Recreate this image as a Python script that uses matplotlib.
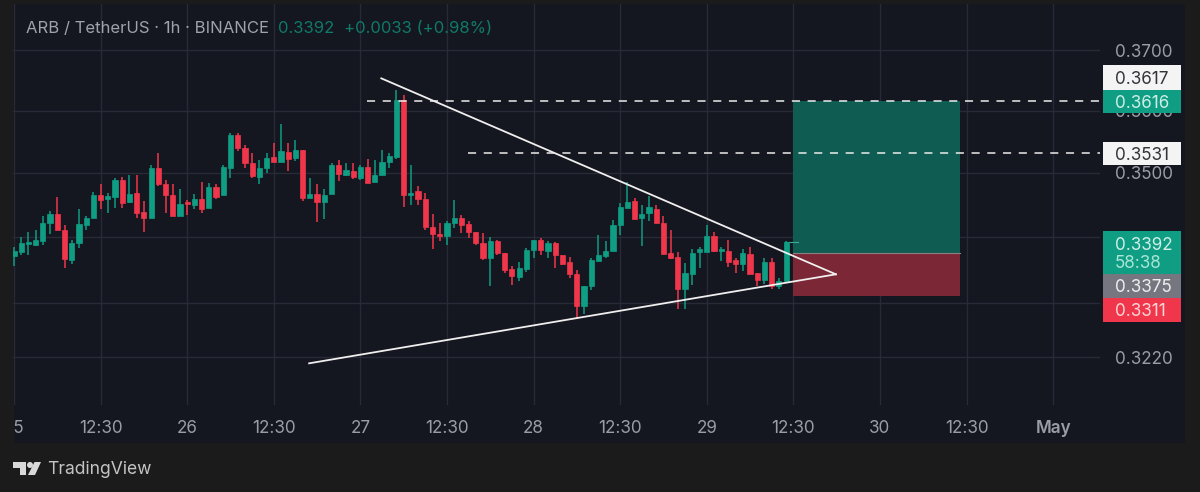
import numpy as np
import matplotlib
matplotlib.use('Agg')
import matplotlib.pyplot as plt
from matplotlib.patches import Rectangle, Polygon, Ellipse
from matplotlib.ticker import NullLocator

# hourly candles
highs = [.3384,.3400,.3407,.3410,.3433,.3440,.3462,.3419,.3395,.3444,.3432,.3470,.3482,.3469,.3492,.3494,.3497,.3497,.3455,.3513,
         .3532,.3488,.3482,.3475,.3457,.3467,.3485,.3484,.3483,.3513,.3564,.3564,.3544,.3531,.3520,.3532,.3548,.3579,.3548,.3552,
         .3536,.3492,.3482,.3474,.3516,.3521,.3516,.3515,.3513,.3522,.3521,.3537,.3532,.3634,.3625,.3513,.3479,.3468,.3436,.3422,
         .3424,.3457,.3434,.3424,.3408,.3406,.3400,.3396,.3376,.3355,.3361,.3383,.3396,.3398,.3393,.3392,.3372,.3369,.3349,.3326,
         .3368,.3403,.3393,.3426,.3453,.3485,.3461,.3450,.3463,.3449,.3432,.3411,.3377,.3360,.3382,.3384,.3419,.3408,.3385,.3396,
         .3368,.3382,.3385,.3345,.3367,.3367,.3338,.3394]
lows = [.3355,.3373,.3373,.3386,.3388,.3404,.3410,.3353,.3358,.3383,.3411,.3430,.3444,.3437,.3445,.3445,.3453,.3430,.3407,.3430,
        .3480,.3437,.3433,.3433,.3434,.3444,.3437,.3445,.3459,.3465,.3492,.3535,.3508,.3492,.3482,.3500,.3517,.3517,.3503,.3519,
        .3455,.3461,.3423,.3427,.3466,.3487,.3495,.3491,.3489,.3484,.3485,.3496,.3508,.3522,.3447,.3449,.3450,.3411,.3382,.3393,
        .3387,.3414,.3406,.3398,.3388,.3365,.3326,.3373,.3345,.3327,.3333,.3346,.3367,.3372,.3367,.3353,.3357,.3337,.3276,.3284,
        .3320,.3363,.3368,.3379,.3403,.3445,.3427,.3386,.3424,.3422,.3374,.3366,.3291,.3291,.3327,.3353,.3377,.3377,.3363,.3354,
        .3345,.3348,.3343,.3326,.3328,.3321,.3321,.3333]
opens = [.3371,.3377,.3389,.3388,.3394,.3422,.3435,.3411,.3365,.3390,.3419,.3430,.3465,.3459,.3462,.3488,.3454,.3468,.3438,.3430,
         .3508,.3483,.3465,.3433,.3454,.3450,.3459,.3445,.3477,.3465,.3508,.3560,.3539,.3515,.3494,.3508,.3525,.3518,.3533,.3523,
         .3536,.3461,.3467,.3454,.3466,.3512,.3496,.3503,.3492,.3509,.3485,.3497,.3517,.3525,.3618,.3465,.3471,.3459,.3415,.3405,
         .3402,.3422,.3430,.3420,.3408,.3390,.3368,.3393,.3375,.3351,.3339,.3351,.3380,.3395,.3379,.3390,.3372,.3361,.3343,.3295,
         .3325,.3363,.3371,.3379,.3418,.3445,.3455,.3430,.3437,.3444,.3422,.3376,.3370,.3321,.3344,.3377,.3377,.3401,.3379,.3379,
         .3365,.3359,.3374,.3345,.3334,.3362,.3326,.3333]
closes = [.3379,.3390,.3392,.3395,.3422,.3435,.3410,.3366,.3391,.3420,.3430,.3465,.3458,.3463,.3488,.3453,.3467,.3437,.3430,.3507,
          .3482,.3465,.3433,.3451,.3451,.3459,.3444,.3477,.3462,.3510,.3560,.3539,.3516,.3495,.3508,.3524,.3517,.3535,.3522,.3537,
          .3461,.3467,.3454,.3465,.3512,.3498,.3504,.3493,.3509,.3484,.3497,.3518,.3527,.3618,.3465,.3468,.3459,.3415,.3405,.3401,
          .3422,.3430,.3419,.3408,.3390,.3367,.3393,.3375,.3349,.3341,.3353,.3380,.3395,.3380,.3390,.3372,.3358,.3344,.3295,.3326,
          .3365,.3372,.3379,.3418,.3447,.3454,.3427,.3436,.3446,.3422,.3374,.3368,.3321,.3345,.3376,.3381,.3401,.3379,.3382,.3362,
          .3359,.3376,.3344,.3335,.3362,.3326,.3333,.3392]

# ticks
time_ticks = [1, 13, 25, 37, 49, 61, 73, 85, 97, 109, 121, 133, 145]
time_labels = ['25', '12:30', '26', '12:30', '27', '12:30', '28', '12:30', '29', '12:30', '30', '12:30', 'May']
price_ticks = [0.37, 0.36, 0.35, 0.34, 0.33, 0.322]
price_labels = ['0.3700', '0.3600', '0.3500', '', '', '0.3220']

# drawings
falling_x, falling_y = [51.9, 114.9], [0.3653, 0.3343]
rising_x, rising_y = [41.9, 114.9], [0.3211, 0.3343]
target_price = 0.3616
mid_price = 0.3531
entry_price = 0.3375
stop_price = 0.3311
last_price = 0.3392

W, H = 1200, 492
OUTER = '#1b1b1b'
PANEL = '#141620'
GRID = '#282b36'
UP = '#0f9d84'
DOWN = '#f0364a'
TICK = '#9a9da6'

plt.rcParams['font.family'] = ['Inter', 'DejaVu Sans']

def fx(x):
    return x / W

def fy(y):
    return 1 - y / H

def box(x0, y0, x1, y1, color, z=5):
    fig.add_artist(Rectangle((fx(x0), fy(y1)), (x1 - x0) / W, (y1 - y0) / H, transform=fig.transFigure,
                             facecolor=color, edgecolor='none', zorder=z))

fig = plt.figure(figsize=(W / 100, H / 100), dpi=100, facecolor=OUTER)
box(13, 4, 1185, 443, PANEL, z=-1)

ax = fig.add_axes([fx(13), fy(405), (1100 - 13) / W, (405 - 4) / H])
ax.set_facecolor('none')
for s in ax.spines.values():
    s.set_visible(False)

ax.set_yscale('log')
ax.set_ylim(0.3151, 0.3778)
ax.set_xlim(0.861, 151.5)
ax.set_yticks(price_ticks)
ax.set_yticklabels(price_labels)
ax.yaxis.set_minor_locator(NullLocator())
ax.yaxis.tick_right()
ax.set_xticks(time_ticks)
ax.set_xticklabels(time_labels)
ax.tick_params(axis='y', length=0, pad=11, labelsize=12.3, labelcolor=TICK)
ax.tick_params(axis='x', length=0, pad=11, labelsize=12.3, labelcolor=TICK)
ax.get_xticklabels()[-1].set_fontweight('semibold')
ax.grid(True, color=GRID, linewidth=1)
ax.set_axisbelow(True)

# long position box
ax.fill_between([109, 132.1], entry_price, target_price, color='#0e5c52', linewidth=0, zorder=1)
ax.fill_between([109, 132.1], stop_price, entry_price, color='#7b2736', linewidth=0, zorder=1)
ax.plot([109, 132.1], [entry_price, entry_price], color='#8c7f80', linewidth=0.8, zorder=1.1)

# candles
idx = np.arange(1, len(closes) + 1)
o = np.array(opens)
c = np.array(closes)
colors = [UP if c[i] >= o[i] else DOWN for i in range(len(c))]
ax.vlines(idx, lows, highs, colors=colors, linewidth=1.1, zorder=2)
ax.bar(idx, np.abs(c - o), bottom=np.minimum(o, c), width=0.72, color=colors, edgecolor=colors, linewidth=0.5, zorder=2.1)
ax.plot([108, 109.6], [last_price, last_price], color='#3fa896', linewidth=0.8, zorder=2)

# trend lines and levels
ax.plot(falling_x, falling_y, color='#f0eeee', linewidth=1.3, zorder=3)
ax.plot(rising_x, rising_y, color='#f0eeee', linewidth=1.3, zorder=3)
ax.plot([49.9, 151.5], [target_price, target_price], color='#ececec', linewidth=1.1, dashes=(5.3, 5), zorder=3)
ax.plot([63.9, 151.5], [mid_price, mid_price], color='#ececec', linewidth=1.1, dashes=(5.3, 5), zorder=3)

# left edge covers the clipped date label
box(0, 405, 14, 443, OUTER)

# price boxes on the right
labels = [
    (65.5, 89.5, '#f4f4f4', '0.3617', '#33343a'),
    (89.5, 113, UP, '0.3616', '#cfeee6'),
    (141.5, 165, '#f4f4f4', '0.3531', '#33343a'),
    (274, 298, '#75767f', '0.3375', '#eeeeee'),
    (298, 322, DOWN, '0.3311', '#fbd5d8'),
]
for y0, y1, col, txt, tcol in labels:
    box(1103, y0, 1181, y1, col)
    fig.text(fx(1115), fy((y0 + y1) / 2), txt, color=tcol, fontsize=12.3, va='center_baseline', zorder=6)
box(1103, 230.5, 1181, 274, UP)
fig.text(fx(1115), fy(243), '0.3392', color='#cfeee6', fontsize=12.3, va='center_baseline', zorder=6)
fig.text(fx(1115), fy(262), '58:38', color='#a9e6d6', fontsize=12.3, va='center_baseline', zorder=6)

# header
fig.text(fx(26), fy(27), 'ARB / TetherUS · 1h · BINANCE', color='#a0a3ab', fontsize=12, va='center_baseline')
fig.text(fx(278), fy(27), '0.3392', color='#0f7a68', fontsize=12, va='center_baseline')
fig.text(fx(344), fy(27), '+0.0033 (+0.98%)', color='#0f7a68', fontsize=12, va='center_baseline')

# TradingView logo
logo = '#d8d8d8'
fig.add_artist(Polygon([(fx(13), fy(462)), (fx(26), fy(462)), (fx(26), fy(475)), (fx(20), fy(475)),
                        (fx(20), fy(468)), (fx(13), fy(468))], closed=True, transform=fig.transFigure,
                       facecolor=logo, edgecolor='none'))
fig.add_artist(Polygon([(fx(34.5), fy(462)), (fx(41), fy(462)), (fx(35), fy(475)), (fx(28), fy(475))], closed=True,
                       transform=fig.transFigure, facecolor=logo, edgecolor='none'))
fig.add_artist(Ellipse((fx(30), fy(465)), 6 / W, 6 / H, transform=fig.transFigure, facecolor=logo, edgecolor='none'))
fig.text(fx(47), fy(468), 'TradingView', color='#c4c4c4', fontsize=12.6, va='center_baseline')

fig.savefig('out.png', dpi=100, facecolor=OUTER)
